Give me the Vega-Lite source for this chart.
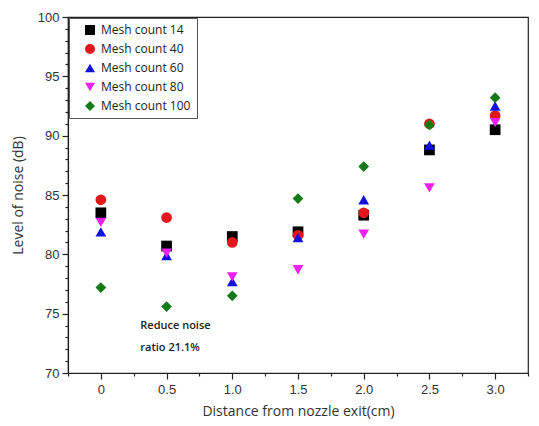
{
  "$schema": "https://vega.github.io/schema/vega-lite/v6.json",
  "width": 460,
  "height": 356,
  "autosize": "none",
  "padding": {"left": 68, "top": 17, "right": 11, "bottom": 53},
  "background": "white",
  "config": {
    "view": {"stroke": "#222", "strokeWidth": 1.2},
    "axis": {"domainColor": "#222", "tickColor": "#222", "labelColor": "#333", "titleColor": "#333", "grid": false, "labelFont": "Liberation Sans", "titleFont": "Open Sans", "labelFontSize": 13, "titleFontSize": 14, "titleFontWeight": "normal", "domainWidth": 1.2, "tickWidth": 1.2}
  },
  "datasets": {
    "noise": [
      {"distance": 0, "series": "Mesh count 14", "dB": 83.5},
      {"distance": 0, "series": "Mesh count 40", "dB": 84.6},
      {"distance": 0, "series": "Mesh count 60", "dB": 81.9},
      {"distance": 0, "series": "Mesh count 80", "dB": 82.7},
      {"distance": 0, "series": "Mesh count 100", "dB": 77.2},
      {"distance": 0.5, "series": "Mesh count 14", "dB": 80.7},
      {"distance": 0.5, "series": "Mesh count 40", "dB": 83.1},
      {"distance": 0.5, "series": "Mesh count 60", "dB": 79.9},
      {"distance": 0.5, "series": "Mesh count 80", "dB": 80.1},
      {"distance": 0.5, "series": "Mesh count 100", "dB": 75.6},
      {"distance": 1.0, "series": "Mesh count 14", "dB": 81.5},
      {"distance": 1.0, "series": "Mesh count 40", "dB": 81.0},
      {"distance": 1.0, "series": "Mesh count 60", "dB": 77.7},
      {"distance": 1.0, "series": "Mesh count 80", "dB": 78.1},
      {"distance": 1.0, "series": "Mesh count 100", "dB": 76.5},
      {"distance": 1.5, "series": "Mesh count 14", "dB": 81.9},
      {"distance": 1.5, "series": "Mesh count 40", "dB": 81.6},
      {"distance": 1.5, "series": "Mesh count 60", "dB": 81.4},
      {"distance": 1.5, "series": "Mesh count 80", "dB": 78.7},
      {"distance": 1.5, "series": "Mesh count 100", "dB": 84.7},
      {"distance": 2.0, "series": "Mesh count 14", "dB": 83.3},
      {"distance": 2.0, "series": "Mesh count 40", "dB": 83.5},
      {"distance": 2.0, "series": "Mesh count 60", "dB": 84.6},
      {"distance": 2.0, "series": "Mesh count 80", "dB": 81.7},
      {"distance": 2.0, "series": "Mesh count 100", "dB": 87.4},
      {"distance": 2.5, "series": "Mesh count 14", "dB": 88.8},
      {"distance": 2.5, "series": "Mesh count 40", "dB": 91.0},
      {"distance": 2.5, "series": "Mesh count 60", "dB": 89.2},
      {"distance": 2.5, "series": "Mesh count 80", "dB": 85.6},
      {"distance": 2.5, "series": "Mesh count 100", "dB": 90.9},
      {"distance": 3.0, "series": "Mesh count 14", "dB": 90.5},
      {"distance": 3.0, "series": "Mesh count 40", "dB": 91.7},
      {"distance": 3.0, "series": "Mesh count 60", "dB": 92.5},
      {"distance": 3.0, "series": "Mesh count 80", "dB": 91.1},
      {"distance": 3.0, "series": "Mesh count 100", "dB": 93.2}
    ],
    "notes": [
      {"distance": 0.3, "dB": 73.95, "label": "Reduce noise"},
      {"distance": 0.3, "dB": 72.1, "label": "ratio 21.1%"}
    ]
  },
  "resolve": {"scale": {"x": "shared", "y": "shared"}, "axis": {"x": "independent", "y": "independent"}},
  "layer": [
    {
      "data": {"name": "noise"},
      "mark": {"type": "point", "opacity": 0},
      "encoding": {
        "x": {"field": "distance", "type": "quantitative", "scale": {"domain": [-0.25, 3.25], "nice": false, "zero": false},
              "axis": {"orient": "bottom", "values": [-0.25, 0.25, 0.75, 1.25, 1.75, 2.25, 2.75, 3.25], "labels": false, "domain": false, "tickSize": 3, "title": null}},
        "y": {"field": "dB", "type": "quantitative", "scale": {"domain": [70, 100], "nice": false, "zero": false},
              "axis": {"orient": "left", "values": [71,72,73,74,76,77,78,79,81,82,83,84,86,87,88,89,91,92,93,94,96,97,98,99], "labels": false, "domain": false, "tickSize": 3, "title": null}}
      }
    },
    {
      "data": {"name": "noise"},
      "mark": {"type": "point", "filled": true, "size": 115, "opacity": 1},
      "encoding": {
        "x": {"field": "distance", "type": "quantitative",
              "axis": {"orient": "bottom", "values": [0, 0.5, 1, 1.5, 2, 2.5, 3], "labelExpr": "datum.value == 0 ? '0' : format(datum.value, '.1f')", "tickSize": 6, "labelPadding": 4, "title": "Distance from nozzle exit(cm)", "titlePadding": 8}},
        "y": {"field": "dB", "type": "quantitative",
              "axis": {"orient": "left", "values": [70, 75, 80, 85, 90, 95, 100], "tickSize": 6, "labelPadding": 3, "title": "Level of noise (dB)", "titlePadding": 12}},
        "color": {"field": "series", "type": "nominal",
                  "scale": {"domain": ["Mesh count 14", "Mesh count 40", "Mesh count 60", "Mesh count 80", "Mesh count 100"], "range": ["#000000", "#e5161b", "#1010e0", "#f020f0", "#137a17"]},
                  "legend": {"title": null, "orient": "none", "legendX": 1, "legendY": 1, "strokeColor": "#555", "fillColor": "white", "padding": 6, "labelFont": "Open Sans", "labelFontSize": 12, "labelColor": "#222", "symbolSize": 100, "rowPadding": 7, "symbolOffset": 9, "labelOffset": 5}},
        "shape": {"field": "series", "type": "nominal",
                  "scale": {"domain": ["Mesh count 14", "Mesh count 40", "Mesh count 60", "Mesh count 80", "Mesh count 100"], "range": ["square", "circle", "triangle-up", "triangle-down", "diamond"]},
                  "legend": null}
      }
    },
    {
      "data": {"name": "notes"},
      "mark": {"type": "text", "align": "left", "baseline": "middle", "font": "Open Sans", "fontSize": 11, "fontWeight": 600, "color": "#222"},
      "encoding": {
        "x": {"field": "distance", "type": "quantitative", "axis": null},
        "y": {"field": "dB", "type": "quantitative", "axis": null},
        "text": {"field": "label"}
      }
    }
  ]
}
